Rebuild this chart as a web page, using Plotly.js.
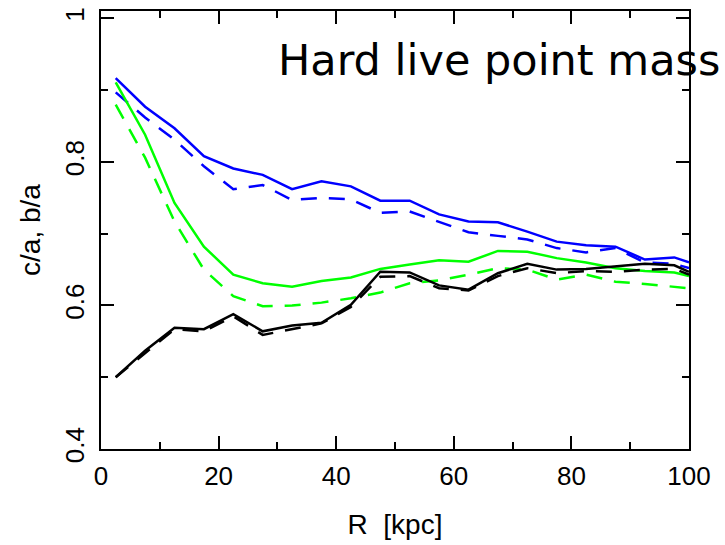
<!DOCTYPE html>
<html>
<head>
<meta charset="utf-8">
<script src="https://cdn.plot.ly/plotly-3.0.1.min.js"></script>
<style>html,body{margin:0;padding:0;background:#fff;}#chart{width:725px;height:545px;}</style>
</head>
<body>
<div id="chart"></div>
<script>
// Radius in kpc
const radius = [2.5, 7.5, 12.5, 17.5, 22.5, 27.5, 32.5, 37.5, 42.5, 47.5, 52.5, 57.5, 62.5, 67.5, 72.5, 77.5, 82.5, 87.5, 92.5, 97.5, 100];

// blue
const blueSolid  = [0.917, 0.877, 0.847, 0.808, 0.791, 0.782, 0.762, 0.773, 0.766, 0.746, 0.746, 0.727, 0.717, 0.716, 0.703, 0.689, 0.684, 0.682, 0.664, 0.667, 0.660];
const blueDashed = [0.897, 0.862, 0.831, 0.794, 0.762, 0.768, 0.747, 0.750, 0.748, 0.729, 0.731, 0.716, 0.702, 0.697, 0.692, 0.680, 0.674, 0.680, 0.660, 0.658, 0.652];

// green
const greenSolid  = [0.911, 0.838, 0.743, 0.682, 0.643, 0.631, 0.626, 0.634, 0.639, 0.651, 0.657, 0.663, 0.661, 0.676, 0.675, 0.666, 0.660, 0.652, 0.648, 0.646, 0.641];
const greenDashed = [0.880, 0.806, 0.717, 0.650, 0.613, 0.599, 0.600, 0.604, 0.610, 0.618, 0.631, 0.635, 0.643, 0.652, 0.650, 0.636, 0.643, 0.633, 0.630, 0.626, 0.624];

// black
const blackSolid  = [0.500, 0.537, 0.569, 0.567, 0.588, 0.564, 0.572, 0.576, 0.601, 0.647, 0.646, 0.628, 0.622, 0.645, 0.658, 0.650, 0.651, 0.654, 0.658, 0.656, 0.647];
const blackDashed = [0.500, 0.533, 0.567, 0.564, 0.585, 0.559, 0.567, 0.575, 0.598, 0.640, 0.641, 0.624, 0.621, 0.641, 0.652, 0.645, 0.648, 0.647, 0.650, 0.651, 0.643];

const xTickVals = [0, 20, 40, 60, 80, 100];
const yTickVals = [0.4, 0.6, 0.8, 1.0];
const yTickText = ['0.4', '0.6', '0.8', '1'];

const titleText = 'Hard live point mass';
const xTitle = 'R  [kpc]';
const yTitle = 'c/a, b/a';

const dashPat = '16px,12px';
function tr(y, color, dash) {
  return {x: radius, y: y, type: 'scatter', mode: 'lines',
          line: {color: color, width: 2.5, dash: dash}, showlegend: false, hoverinfo: 'skip'};
}

const data = [
  tr(blueSolid, '#0000ff', 'solid'),
  tr(blueDashed, '#0000ff', dashPat),
  tr(greenSolid, '#00ff00', 'solid'),
  tr(greenDashed, '#00ff00', dashPat),
  tr(blackSolid, '#000000', 'solid'),
  tr(blackDashed, '#000000', dashPat)
];

const tickFont = {family: 'Liberation Sans, Arial, sans-serif', size: 26, color: '#000'};
const layout = {
  width: 725, height: 545,
  margin: {l: 101, r: 36, t: 11, b: 96},
  paper_bgcolor: '#fff', plot_bgcolor: '#fff',
  showlegend: false,
  xaxis: {
    range: [0, 100], tickvals: xTickVals, ticks: 'inside', ticklen: 13, tickwidth: 2, tickcolor: '#000',
    minor: {dtick: 10, ticks: 'inside', ticklen: 7, tickwidth: 2, tickcolor: '#000'},
    showline: true, linecolor: '#000', linewidth: 2, mirror: 'allticks',
    showgrid: false, zeroline: false, tickfont: tickFont, ticklabelstandoff: 3,
    title: {text: xTitle, font: {family: 'Liberation Sans, Arial, sans-serif', size: 28, color: '#000'}, standoff: 24}
  },
  yaxis: {
    range: [0.4, 1.0104], tickvals: yTickVals, ticktext: yTickText, tickangle: -90,
    ticks: 'inside', ticklen: 13, tickwidth: 2, tickcolor: '#000',
    minor: {dtick: 0.1, ticks: 'inside', ticklen: 7, tickwidth: 2, tickcolor: '#000'},
    showline: true, linecolor: '#000', linewidth: 2, mirror: 'allticks',
    showgrid: false, zeroline: false, tickfont: tickFont, ticklabelstandoff: 5,
    title: {text: yTitle, font: {family: 'Liberation Sans, Arial, sans-serif', size: 28, color: '#000'}, standoff: 11}
  },
  annotations: [{
    text: titleText, xref: 'paper', yref: 'paper', x: 0.298, y: 0.888,
    xanchor: 'left', yanchor: 'middle', showarrow: false,
    font: {family: 'DejaVu Sans', size: 43, color: '#000'}
  }]
};

Plotly.newPlot('chart', data, layout, {displayModeBar: false, staticPlot: true});
</script>
</body>
</html>
